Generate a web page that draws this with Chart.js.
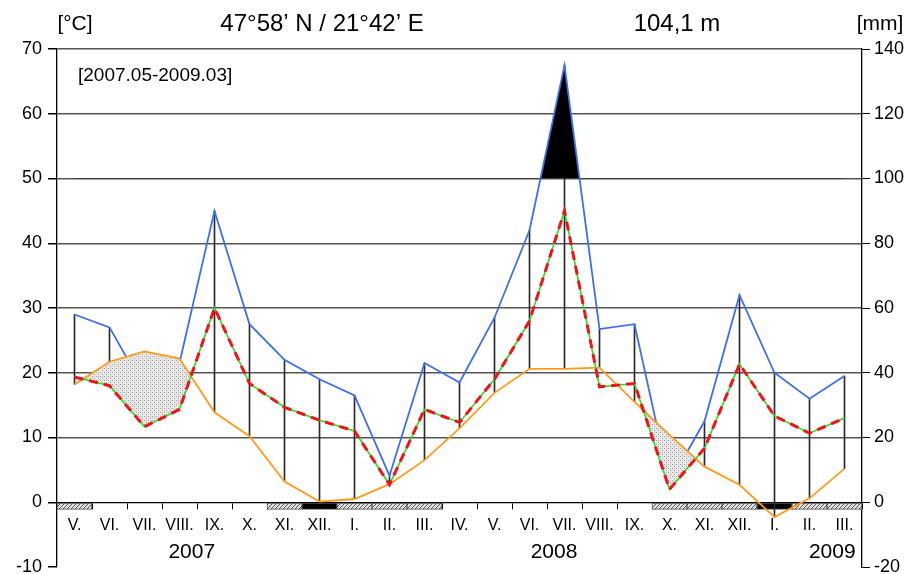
<!DOCTYPE html>
<html>
<head>
<meta charset="utf-8">
<script src="https://cdn.jsdelivr.net/npm/chart.js@4.4.1/dist/chart.umd.min.js"></script>
<style>
  html, body { margin: 0; padding: 0; background: #fff; }
  #wrap { width: 913px; height: 574px; }
</style>
</head>
<body>
<div id="wrap"><canvas id="chart"></canvas></div>
<script>
const months = ["V.", "VI.", "VII.", "VIII.", "IX.", "X.", "XI.", "XII.", "I.", "II.", "III.", "IV.",
                "V.", "VI.", "VII.", "VIII.", "IX.", "X.", "XI.", "XII.", "I.", "II.", "III."];
// monthly mean temperature, °C
const temperature = [18.2, 21.7, 23.3, 22.2, 13.9, 10.2, 3.2, 0.1, 0.5, 2.8, 6.5, 11.4,
                     16.9, 20.6, 20.6, 20.8, 15.5, 10.4, 5.5, 2.7, -2.3, 0.6, 5.2];
// monthly precipitation, mm
const precipitation = [58, 54, 35, 43, 90, 55, 44, 38, 33, 8.2, 43, 37,
                       57, 84, 135, 53.5, 55, 6, 25, 64, 40, 32, 39];
// frost marks under the axis: 0 none, 1 hatched (possible frost), 2 black (mean min below 0)
const frost = [1, 0, 0, 0, 0, 0, 1, 2, 1, 1, 1, 0, 0, 0, 0, 0, 0, 1, 1, 1, 2, 1, 1];
const years = ["2007", "2008", "2009"];
const yearAt = [3.35, 13.7, 21.65];

const FONT = "'Liberation Sans', Arial, sans-serif";
Chart.defaults.font.family = FONT;
Chart.defaults.color = "#000";

function hatch() {
  const c = document.createElement("canvas");
  c.width = 4; c.height = 4;
  const g = c.getContext("2d");
  g.fillStyle = "#e2e2e2"; g.fillRect(0, 0, 4, 4);
  g.fillStyle = "#505050";
  for (let i = 0; i < 4; i++) g.fillRect(3 - i, i, 1, 1);
  return g.createPattern(c, "repeat");
}

function dots() {
  const c = document.createElement("canvas");
  c.width = 4; c.height = 4;
  const g = c.getContext("2d");
  g.fillStyle = "#e8e8e8"; g.fillRect(0, 0, 4, 4);
  g.fillStyle = "#a0a0a0";
  g.fillRect(0, 0, 1, 1); g.fillRect(2, 2, 1, 1);
  g.fillStyle = "#c8c8c8";
  g.fillRect(2, 0, 1, 1);
  return g.createPattern(c, "repeat");
}

// humid part: thin line from the temperature up to the P/2 curve
const humid = temperature.map((t, i) => precipitation[i] / 2 > t ? [t, precipitation[i] / 2] : null);

// dry part: dotted area between T and P/3 around months where P/2 < T
const p3 = precipitation.map(p => p / 3);
const dotted = months.map(() => false);
precipitation.forEach((p, i) => {
  if (p / 2 >= temperature[i]) return;
  let a = i, b = i;
  while (a > 0 && temperature[a - 1] > p3[a - 1]) a--;
  while (b < months.length - 1 && temperature[b + 1] > p3[b + 1]) b++;
  for (let k = Math.max(0, a - 1); k <= Math.min(months.length - 1, b + 1); k++) dotted[k] = true;
});
const dryTemp = temperature.map((t, i) => dotted[i] ? t : null);

const hatchFill = hatch();

const textPlugin = {
  id: "texts",
  afterDraw(chart) {
    const ctx = chart.ctx;
    ctx.save();
    ctx.fillStyle = "#000";
    ctx.textBaseline = "alphabetic";
    ctx.textAlign = "center";
    ctx.font = "24px " + FONT;
    ctx.fillText("47°58’ N / 21°42’ E", 322, 31);
    ctx.fillText("104,1 m", 677, 31);
    ctx.font = "21px " + FONT;
    ctx.fillText("[°C]", 75, 30);
    ctx.fillText("[mm]", 880, 30);
    ctx.textAlign = "left";
    ctx.font = "19px " + FONT;
    ctx.fillText("[2007.05-2009.03]", 78, 81);
    ctx.textAlign = "center";
    ctx.font = "21px " + FONT;
    const x = chart.scales.x;
    years.forEach((y, i) => ctx.fillText(y, x.getPixelForValue(yearAt[i]), 558));
    ctx.restore();
  }
};

function fixWidth(w) {
  return s => { s.width = w; s.paddingTop = 0; s.paddingBottom = 0; };
}

new Chart(document.getElementById("chart"), {
  type: "bar",
  data: {
    labels: months,
    datasets: [
      { type: "line", label: "P/3 red", data: precipitation, yAxisID: "y3", borderColor: "#f01414",
        borderWidth: 3, borderDash: [9, 6], pointRadius: 0, fill: false, tension: 0 },
      { type: "line", label: "P/3", data: precipitation, yAxisID: "y3", borderColor: "#22e022",
        borderWidth: 1.6, pointRadius: 0, fill: false, tension: 0 },
      { type: "line", label: "Temperature", data: temperature, yAxisID: "y", borderColor: "#ff9a1a",
        borderWidth: 1.8, pointRadius: 0, fill: false, tension: 0 },
      { type: "line", label: "dry", data: dryTemp, yAxisID: "y", borderColor: "transparent",
        borderWidth: 0, pointRadius: 0, spanGaps: false,
        fill: { target: 1, above: dots(), below: "transparent" } },
      { type: "line", label: "Precipitation", data: precipitation, yAxisID: "y2", borderColor: "#3c6ef0",
        borderWidth: 1.8, pointRadius: 0, tension: 0,
        fill: { target: { value: 100 }, above: "#000", below: "transparent" } },
      { type: "bar", label: "humid", data: humid, yAxisID: "y", backgroundColor: "#2a2a2a",
        barThickness: 1, grouped: false },
      { type: "bar", label: "frost", data: frost.map(f => f ? [-1.1, 0] : null), yAxisID: "y",
        backgroundColor: frost.map(f => f === 2 ? "#000" : hatchFill), borderColor: "#555",
        borderWidth: 1, borderSkipped: false, barPercentage: 1, categoryPercentage: 1, grouped: false }
    ]
  },
  options: {
    responsive: true,
    maintainAspectRatio: false,
    animation: false,
    layout: { padding: { top: 49, bottom: 7, left: 0, right: 0 } },
    plugins: { legend: { display: false }, tooltip: { enabled: false } },
    scales: {
      x: {
        type: "category", position: { y: 0 }, offset: true,
        grid: { offset: true, drawOnChartArea: false, tickLength: 6, color: "#000", tickColor: "#000" },
        border: { display: true, color: "#000", width: 1.3 },
        ticks: { autoSkip: false, maxRotation: 0, minRotation: 0, font: { size: 16 }, padding: 8 }
      },
      y: {
        position: "left", min: -10, max: 70,
        ticks: { stepSize: 10, font: { size: 18 }, padding: 6 },
        grid: { color: c => c.tick && c.tick.value >= 10 ? "#555" : "transparent", lineWidth: 1.5,
                tickLength: 9, tickColor: "#000" },
        border: { display: true, color: "#000", width: 1.3 },
        afterFit: fixWidth(57)
      },
      y2: {
        position: "right", min: -20, max: 140,
        ticks: { stepSize: 20, font: { size: 18 }, padding: 4 },
        grid: { drawOnChartArea: false, tickLength: 8, tickColor: "#000" },
        border: { display: true, color: "#000", width: 1.3 },
        afterFit: fixWidth(51)
      },
      y3: { display: false, min: -30, max: 210 }
    }
  },
  plugins: [textPlugin]
});
</script>
</body>
</html>
